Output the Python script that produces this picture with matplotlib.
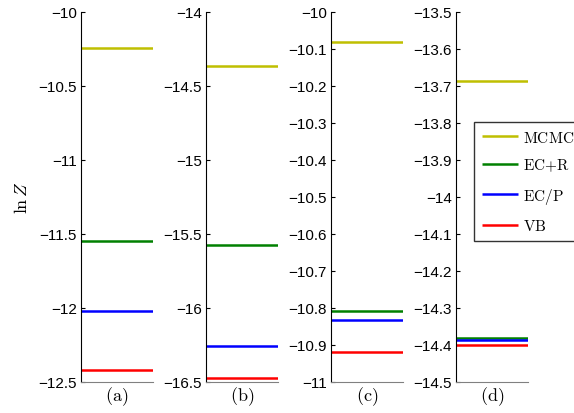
import matplotlib
matplotlib.use("Agg")
import matplotlib.pyplot as plt

plt.rcParams['font.family'] = ['Liberation Sans', 'DejaVu Sans']
plt.rcParams['mathtext.fontset'] = 'cm'

panels = ["(a)", "(b)", "(c)", "(d)"]
methods = ["MCMC", "EC+R", "EC/P", "VB"]
colors = ["#bfbf00", "#008000", "#0000ff", "#ff0000"]

mcmc = [-10.243, -14.363, -10.080, -13.686]
ecr = [-11.545, -15.572, -10.808, -14.381]
ecp = [-12.020, -16.260, -10.832, -14.386]
vb = [-12.420, -16.475, -10.918, -14.400]

ylims = [(-12.5, -10), (-16.5, -14), (-11, -10), (-14.5, -13.5)]
yticks = [
    [-12.5, -12, -11.5, -11, -10.5, -10],
    [-16.5, -16, -15.5, -15, -14.5, -14],
    [-11, -10.9, -10.8, -10.7, -10.6, -10.5, -10.4, -10.3, -10.2, -10.1, -10],
    [-14.5, -14.4, -14.3, -14.2, -14.1, -14, -13.9, -13.8, -13.7, -13.6, -13.5],
]
yticklabels = [
    ["\u221212.5", "\u221212", "\u221211.5", "\u221211", "\u221210.5", "\u221210"],
    ["\u221216.5", "\u221216", "\u221215.5", "\u221215", "\u221214.5", "\u221214"],
    ["\u221211", "\u221210.9", "\u221210.8", "\u221210.7", "\u221210.6", "\u221210.5",
     "\u221210.4", "\u221210.3", "\u221210.2", "\u221210.1", "\u221210"],
    ["\u221214.5", "\u221214.4", "\u221214.3", "\u221214.2", "\u221214.1", "\u221214",
     "\u221213.9", "\u221213.8", "\u221213.7", "\u221213.6", "\u221213.5"],
]

def mlabel(s):
    return r"$\mathrm{" + s.replace("+", "{+}") + "}$"

fig = plt.figure(figsize=(5.74, 4.14), dpi=100)
lefts = [0.1411, 0.3589, 0.5767, 0.7944]
series = [mcmc, ecr, ecp, vb]
handles = []
for i, left in enumerate(lefts):
    ax = fig.add_axes([left, 0.0749, 0.1254, 0.8937])
    for j, s in enumerate(series):
        h = ax.hlines(s[i], 0, 1, color=colors[j], lw=1.8, label=mlabel(methods[j]))
        if i == 0:
            handles.append(h)
    ax.set_xlim(0, 1)
    ax.set_ylim(*ylims[i])
    ax.set_yticks(yticks[i])
    ax.set_yticklabels(yticklabels[i])
    ax.set_xticks([])
    ax.spines['top'].set_visible(False)
    ax.spines['right'].set_visible(False)
    ax.spines['bottom'].set_color('#808080')
    ax.spines['left'].set_color('black')
    ax.tick_params(axis='y', direction='in', length=3, labelsize=11, pad=3)
    ax.set_xlabel(r"$\mathrm{" + panels[i] + "}$", fontsize=13, labelpad=2)
    if i == 0:
        ax.set_ylabel(r"$\ln Z$", fontsize=13, labelpad=5)

leg = fig.legend(handles=handles, loc='upper left', bbox_to_anchor=(0.8258, 0.7029),
                 borderaxespad=0, frameon=True, fancybox=False, edgecolor='black',
                 fontsize=11, handlelength=2.4, labelspacing=0.8, borderpad=0.5,
                 handletextpad=0.3)
leg.get_frame().set_linewidth(1.0)

fig.savefig("out.png", dpi=100)
